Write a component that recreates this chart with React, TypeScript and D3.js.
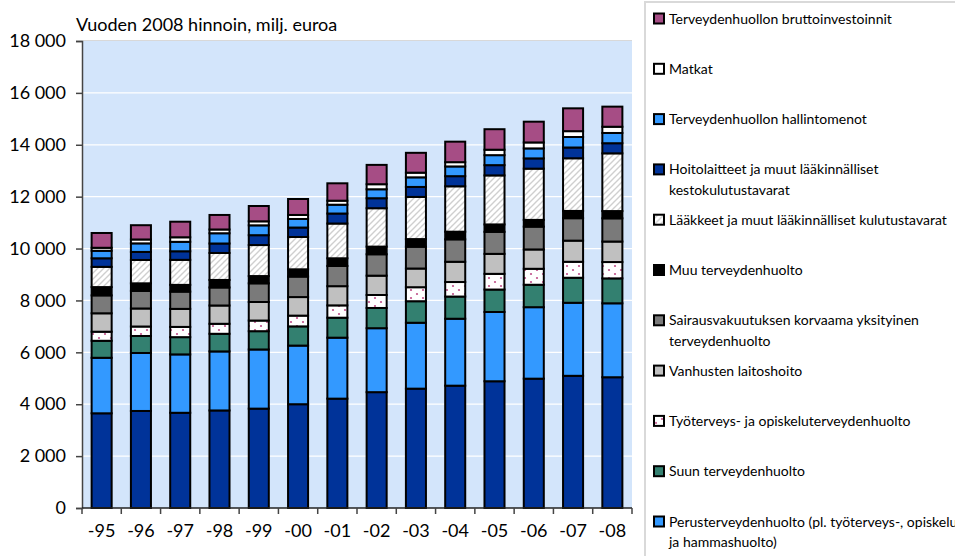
import React, { useEffect, useRef } from "react";
import * as d3 from "d3";

const years = ["-95", "-96", "-97", "-98", "-99", "-00", "-01", "-02", "-03", "-04", "-05", "-06", "-07", "-08"];

// values in million euros (2008 prices), bottom segment first
const erikoissairaanhoito = [3650, 3740, 3670, 3760, 3830, 4000, 4215, 4465, 4600, 4715, 4885, 4985, 5095, 5040];
const perusterveydenhuolto = [2140, 2235, 2250, 2275, 2280, 2260, 2350, 2465, 2540, 2580, 2670, 2755, 2815, 2850];
const suun = [655, 655, 665, 680, 705, 740, 770, 780, 830, 855, 865, 865, 965, 960];
const tyoterveys = [350, 365, 395, 385, 410, 415, 475, 500, 540, 560, 605, 615, 615, 630];
const vanhusten = [710, 695, 695, 705, 715, 715, 740, 745, 720, 780, 770, 745, 815, 790];
const sairausvakuutus = [690, 680, 665, 695, 720, 790, 780, 825, 840, 865, 850, 880, 865, 895];
const muu = [320, 290, 260, 290, 280, 280, 295, 295, 295, 295, 285, 260, 280, 280];
const laakkeet = [780, 900, 965, 1040, 1195, 1245, 1340, 1480, 1625, 1750, 1890, 1975, 2030, 2225];
const hoitolaitteet = [330, 310, 330, 365, 380, 365, 385, 385, 385, 390, 395, 395, 415, 390];
const hallintomenot = [290, 330, 365, 395, 380, 330, 340, 345, 370, 375, 385, 385, 405, 395];
const matkat = [115, 150, 175, 145, 155, 155, 155, 195, 180, 165, 210, 230, 225, 240];
const investoinnit = [570, 550, 600, 560, 590, 615, 670, 745, 765, 790, 790, 800, 880, 775];

const seriesValues = [
  erikoissairaanhoito, perusterveydenhuolto, suun, tyoterveys, vanhusten, sairausvakuutus,
  muu, laakkeet, hoitolaitteet, hallintomenot, matkat, investoinnit,
];

// legend lines, same order as seriesValues (first one is cut off in the original)
const seriesLabels = [
  ["Erikoissairaanhoito"],
  ["Perusterveydenhuolto (pl. työterveys-, opiskelu-", "ja hammashuolto)"],
  ["Suun terveydenhuolto"],
  ["Työterveys- ja opiskeluterveydenhuolto"],
  ["Vanhusten laitoshoito"],
  ["Sairausvakuutuksen korvaama yksityinen", "terveydenhuolto"],
  ["Muu terveydenhuolto"],
  ["Lääkkeet ja muut lääkinnälliset kulutustavarat"],
  ["Hoitolaitteet ja muut lääkinnälliset", "kestokulutustavarat"],
  ["Terveydenhuollon hallintomenot"],
  ["Matkat"],
  ["Terveydenhuollon bruttoinvestoinnit"],
];

const seriesFills = [
  "#003399", "#3399ff", "#338070", "url(#dots)", "#c0c0c0", "#7a7a7a",
  "#000000", "url(#hatch)", "#003399", "#3399ff", "#ffffff", "#a64d85",
];

const yTicks = [0, 2000, 4000, 6000, 8000, 10000, 12000, 14000, 16000, 18000];

function HealthChart() {
  const ref = useRef<SVGSVGElement>(null);
  const width = 955;
  const height = 556;
  const margin = { top: 41, right: 323, bottom: 48, left: 82 };

  useEffect(() => {
    const svg = d3.select(ref.current);
    svg.selectAll("*").remove();

    const keys = seriesValues.map((_, i) => "s" + i);
    const table = years.map((year, j) => {
      const row: any = { year };
      seriesValues.forEach((vals, i) => (row["s" + i] = vals[j]));
      return row;
    });
    const stacked = d3.stack().keys(keys)(table);

    const x = d3
      .scaleBand()
      .domain(years)
      .range([margin.left, width - margin.right])
      .paddingInner(0.49)
      .paddingOuter(0.245);

    const y = d3
      .scaleLinear()
      .domain([0, 18000])
      .range([height - margin.bottom, margin.top]);

    // patterns
    const defs = svg.append("defs");
    const hatch = defs
      .append("pattern")
      .attr("id", "hatch")
      .attr("patternUnits", "userSpaceOnUse")
      .attr("width", 6)
      .attr("height", 6);
    hatch.append("rect").attr("width", 6).attr("height", 6).attr("fill", "#fff");
    hatch
      .append("path")
      .attr("d", "M0,6 L6,0 M-1.5,1.5 L1.5,-1.5 M4.5,7.5 L7.5,4.5")
      .attr("stroke", "#cfcfcf")
      .attr("stroke-width", 1.4);
    const dots = defs
      .append("pattern")
      .attr("id", "dots")
      .attr("patternUnits", "userSpaceOnUse")
      .attr("width", 12)
      .attr("height", 8);
    dots.append("rect").attr("width", 12).attr("height", 8).attr("fill", "#fff");
    dots.append("circle").attr("cx", 3).attr("cy", 2).attr("r", 1.1).attr("fill", "#c0508a");
    dots.append("circle").attr("cx", 9).attr("cy", 6).attr("r", 1.1).attr("fill", "#c0508a");

    // plot background + grid
    svg
      .append("rect")
      .attr("x", margin.left)
      .attr("y", margin.top)
      .attr("width", width - margin.right - margin.left)
      .attr("height", height - margin.bottom - margin.top)
      .attr("fill", "#d3e5fb");
    svg
      .append("line")
      .attr("x1", margin.left)
      .attr("x2", width - margin.right)
      .attr("y1", margin.top - 0.5)
      .attr("y2", margin.top - 0.5)
      .attr("stroke", "#d8d8d8");

    svg
      .append("g")
      .selectAll("line")
      .data(yTicks.filter((t) => t > 0 && t < 18000))
      .join("line")
      .attr("x1", margin.left)
      .attr("x2", width - margin.right)
      .attr("y1", (d) => y(d))
      .attr("y2", (d) => y(d))
      .attr("stroke", "#fff")
      .attr("stroke-width", 1.2);

    // bars
    svg
      .append("g")
      .selectAll("g")
      .data(stacked)
      .join("g")
      .attr("fill", (d, i) => seriesFills[i])
      .selectAll("rect")
      .data((d) => d)
      .join("rect")
      .attr("x", (d: any) => x(d.data.year)!)
      .attr("width", x.bandwidth())
      .attr("y", (d) => y(d[1]))
      .attr("height", (d) => y(d[0]) - y(d[1]))
      .attr("stroke", "#000")
      .attr("stroke-width", 2);

    // y axis
    const yAxis = svg
      .append("g")
      .attr("transform", `translate(${margin.left},0)`)
      .call(
        d3
          .axisLeft(y)
          .tickValues(yTicks)
          .tickSize(6)
          .tickPadding(10)
          .tickFormat((d) => d3.format(",")(d as number).replace(/,/g, " "))
      );
    yAxis.selectAll("path,line").attr("stroke", "#444").attr("stroke-width", 1.5);
    yAxis.selectAll("text").attr("font-size", 18).attr("fill", "#000").attr("font-family", "Lato");

    // x axis, ticks on category edges
    const xg = svg.append("g").attr("transform", `translate(0,${height - margin.bottom})`);
    xg.append("line")
      .attr("x1", margin.left)
      .attr("x2", width - margin.right)
      .attr("stroke", "#222")
      .attr("stroke-width", 1.5);
    const step = x.step();
    const edges = d3.range(years.length + 1).map((i) => margin.left + i * step);
    xg.selectAll(".edge")
      .data(edges)
      .join("line")
      .attr("class", "edge")
      .attr("x1", (d) => d)
      .attr("x2", (d) => d)
      .attr("y2", 6)
      .attr("stroke", "#444")
      .attr("stroke-width", 1.5);
    xg.selectAll("text")
      .data(years)
      .join("text")
      .attr("x", (d) => x(d)! + x.bandwidth() / 2)
      .attr("y", 29)
      .attr("text-anchor", "middle")
      .attr("font-size", 18)
      .text((d) => d);

    svg
      .append("text")
      .attr("x", 76)
      .attr("y", 31)
      .attr("font-size", 18)
      .text("Vuoden 2008 hinnoin, milj. euroa");

    // legend
    const lg = svg.append("g");
    lg.append("rect")
      .attr("x", 645)
      .attr("y", 2)
      .attr("width", 330)
      .attr("height", 600)
      .attr("fill", "#fff")
      .attr("stroke", "#d9d9d9")
      .attr("stroke-width", 2);

    const legendOrder = d3.range(seriesValues.length - 1, 0, -1);
    const item = lg
      .selectAll(".item")
      .data(legendOrder)
      .join("g")
      .attr("class", "item")
      .attr("transform", (d, k) => `translate(653,${18.5 + k * 50.3})`);
    item
      .append("rect")
      .attr("x", 1)
      .attr("y", -5)
      .attr("width", 10)
      .attr("height", 10)
      .attr("fill", (d) => seriesFills[d])
      .attr("stroke", "#000")
      .attr("stroke-width", 2);
    item
      .append("text")
      .attr("x", 16)
      .attr("y", 5)
      .attr("font-size", 14)
      .selectAll("tspan")
      .data((d) => seriesLabels[d])
      .join("tspan")
      .attr("x", 16)
      .attr("dy", (d, i) => (i === 0 ? 0 : 20.5))
      .text((d) => d);
  }, []);

  return (
    <svg
      ref={ref}
      width={width}
      height={height}
      style={{ position: "absolute", left: 0, top: 0, fontFamily: "Lato, 'Open Sans', sans-serif" }}
    />
  );
}

export default function App() {
  return <HealthChart />;
}
